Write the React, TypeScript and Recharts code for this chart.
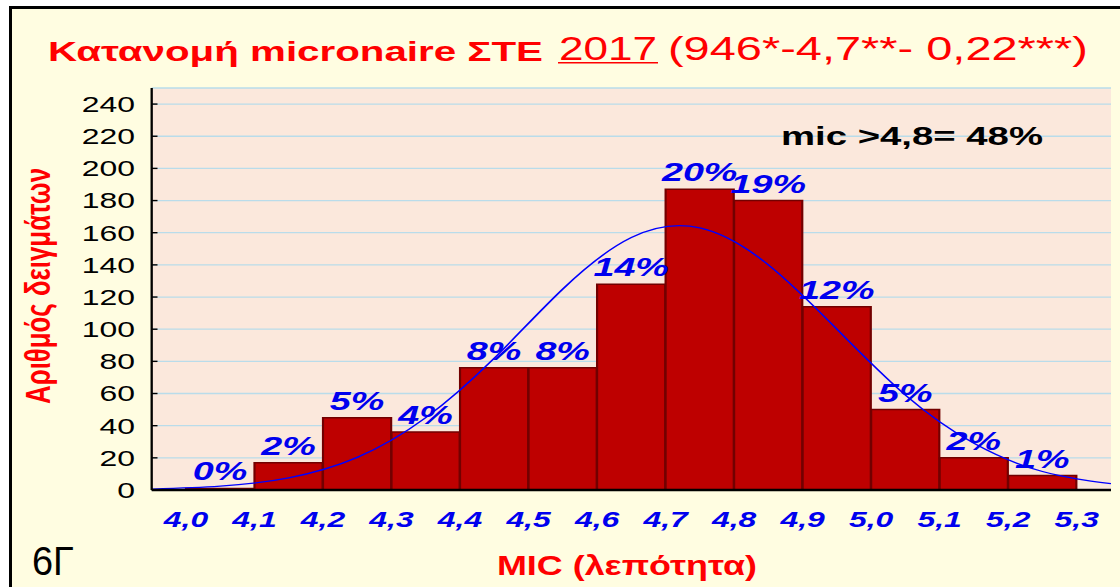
import { ComposedChart, Bar, Line, XAxis, YAxis, CartesianGrid, LabelList } from "recharts"

// micronaire bins (0.1 wide) - counts
const binMid = [4.05, 4.15, 4.25, 4.35, 4.45, 4.55, 4.65, 4.75, 4.85, 4.95, 5.05, 5.15, 5.25]
const counts = [1, 17, 45, 36, 76, 76, 128, 187, 180, 114, 50, 20, 9]
const pctLabels = ["0%", "2%", "5%", "4%", "8%", "8%", "14%", "20%", "19%", "12%", "5%", "2%", "1%"]

// fitted normal curve, read at the bin middles plus both plot edges
const curveX = [3.95, 4.05, 4.15, 4.25, 4.35, 4.45, 4.55, 4.65, 4.75, 4.85, 4.95, 5.05, 5.15, 5.25, 5.35]
const curveY = [0.6, 2.4, 7.6, 20.3, 45, 82, 125, 157, 163, 140, 100, 59, 29, 11.5, 3.9]

const xTicks = [4.0, 4.1, 4.2, 4.3, 4.4, 4.5, 4.6, 4.7, 4.8, 4.9, 5.0, 5.1, 5.2, 5.3]
const xTickLabels = ["4,0", "4,1", "4,2", "4,3", "4,4", "4,5", "4,6", "4,7", "4,8", "4,9", "5,0", "5,1", "5,2", "5,3"]
const yTicks = [0, 20, 40, 60, 80, 100, 120, 140, 160, 180, 200, 220, 240]
const frameTicks = [4.0, 4.47, 4.94]

const X_MIN = 3.95
const X_MAX = 5.35

// the original graph is stretched sideways, so draw narrow and scale
const S = 1.45
const W = 1120 / S
const H = 587
const LEFT = 151.7 / S
const RIGHT = W - 1111 / S
const TOP = 88
const BOTTOM = 97

const FONT = '"Liberation Sans", Arial, sans-serif'
const RED = "#ff0000"
const BLUE = "#0000ee"

const rows = curveX.map((x, i) => {
  const b = binMid.findIndex((m) => Math.abs(m - x) < 1e-6)
  return {
    x,
    fit: curveY[i],
    count: b >= 0 ? counts[b] : null,
    pct: b >= 0 ? pctLabels[b] : null,
  }
})

const XTick = ({ x, y, payload }: any) => {
  const i = xTicks.findIndex((t) => Math.abs(t - payload.value) < 1e-6)
  return (
    <text x={x} y={y + 37} textAnchor="middle" fill={BLUE} fontFamily={FONT} fontSize={22} fontWeight="bold" fontStyle="italic">
      {xTickLabels[i]}
    </text>
  )
}

const YTick = ({ x, y, payload }: any) => (
  <text x={x} y={y} dy="0.36em" textAnchor="end" fill="#000" fontFamily={FONT} fontSize={22}>
    {payload.value}
  </text>
)

const PctLabel = ({ x, y, width, value }: any) => {
  if (!value) return null
  return (
    <text x={x + width / 2} y={y - 8} textAnchor="middle" fill={BLUE} fontFamily={FONT} fontSize={26} fontWeight="bold" fontStyle="italic">
      {value}
    </text>
  )
}

export default function App() {
  return (
    <div style={{ position: "absolute", left: 0, top: 0, width: 1120, height: 587, background: "#fff", overflow: "hidden" }}>
      <div
        style={{
          position: "absolute",
          left: 9,
          top: 6,
          width: 1200,
          height: 700,
          borderTop: "3px solid #000",
          borderLeft: "3px solid #000",
          background: "#fffde1",
        }}
      />
      <div style={{ position: "absolute", left: 0, top: 0, width: W, height: H, transform: `scaleX(${S})`, transformOrigin: "0 0" }}>
        <ComposedChart width={W} height={H} data={rows} barCategoryGap={0} barGap={0} margin={{ top: TOP, right: RIGHT, bottom: 0, left: 0 }}>
          <CartesianGrid vertical={false} stroke="#b9dcea" strokeWidth={1.3} fill="#fbe8dc" />
          <XAxis
            dataKey="x"
            type="number"
            domain={[X_MIN, X_MAX]}
            allowDataOverflow
            ticks={xTicks}
            interval={0}
            height={BOTTOM}
            tickSize={0}
            tickMargin={0}
            tickLine={false}
            axisLine={{ stroke: "#000", strokeWidth: 2.6 }}
            tick={<XTick />}
          />
          <XAxis
            xAxisId="top"
            orientation="top"
            type="number"
            domain={[X_MIN, X_MAX]}
            allowDataOverflow
            ticks={frameTicks}
            height={0}
            tickSize={-6}
            tick={false}
            tickLine={{ stroke: "#000", strokeWidth: 1.4 }}
            axisLine={{ stroke: "#000", strokeWidth: 1.6 }}
          />
          <YAxis
            domain={[0, 250]}
            allowDataOverflow
            ticks={yTicks}
            interval={0}
            width={LEFT}
            tickSize={-4}
            tickMargin={15.5}
            tickLine={{ stroke: "#000", strokeWidth: 1.4 }}
            axisLine={{ stroke: "#000", strokeWidth: 1.6 }}
            tick={<YTick />}
          />
          <YAxis
            yAxisId="r"
            orientation="right"
            domain={[0, 250]}
            allowDataOverflow
            ticks={yTicks}
            interval={0}
            width={0}
            tickSize={-4}
            tick={false}
            tickLine={{ stroke: "#000", strokeWidth: 1.4 }}
            axisLine={{ stroke: "#000", strokeWidth: 1.2 }}
          />
          <Bar dataKey="count" fill="#be0000" stroke="#720000" strokeWidth={1.5} isAnimationActive={false}>
            <LabelList dataKey="pct" content={<PctLabel />} />
          </Bar>
          <Line dataKey="fit" type="natural" stroke="#0000ff" strokeWidth={1.3} dot={false} activeDot={false} isAnimationActive={false} />
        </ComposedChart>

        <svg width={W} height={H} style={{ position: "absolute", left: 0, top: 0, pointerEvents: "none" }}>
          <text x={48 / S} y={61} fill={RED} fontFamily={FONT} fontSize={28} fontWeight="bold" textLength={495 / S} lengthAdjust="spacingAndGlyphs">
            Κατανομή micronaire ΣΤΕ
          </text>
          <text x={559 / S} y={60} fill={RED} fontFamily={FONT} fontSize={34} textLength={98 / S} lengthAdjust="spacingAndGlyphs">
            2017
          </text>
          <line x1={558 / S} x2={658 / S} y1={62.8} y2={62.8} stroke={RED} strokeWidth={1.5} />
          <text x={668 / S} y={60} fill={RED} fontFamily={FONT} fontSize={34} textLength={420 / S} lengthAdjust="spacingAndGlyphs">
            (946*-4,7**- 0,22***)
          </text>
          <text x={781 / S} y={145} fill="#000" fontFamily={FONT} fontSize={26} fontWeight="bold" textLength={262 / S} lengthAdjust="spacingAndGlyphs">
            mic &gt;4,8= 48%
          </text>
          <text
            transform={`translate(${50 / S}, 286) rotate(-90)`}
            textAnchor="middle"
            fill={RED}
            fontFamily={FONT}
            fontSize={24}
            fontWeight="bold"
            textLength={236}
            lengthAdjust="spacingAndGlyphs"
          >
            Αριθμός δειγμάτων
          </text>
          <text x={497 / S} y={575} fill={RED} fontFamily={FONT} fontSize={28} fontWeight="bold" textLength={260 / S} lengthAdjust="spacingAndGlyphs">
            MIC (λεπότητα)
          </text>
        </svg>
      </div>

      <svg width={1120} height={587} style={{ position: "absolute", left: 0, top: 0, pointerEvents: "none" }}>
        <text x={32} y={575} fill="#000" fontFamily={FONT} fontSize={40} textLength={42} lengthAdjust="spacingAndGlyphs">
          6Γ
        </text>
      </svg>
    </div>
  )
}
